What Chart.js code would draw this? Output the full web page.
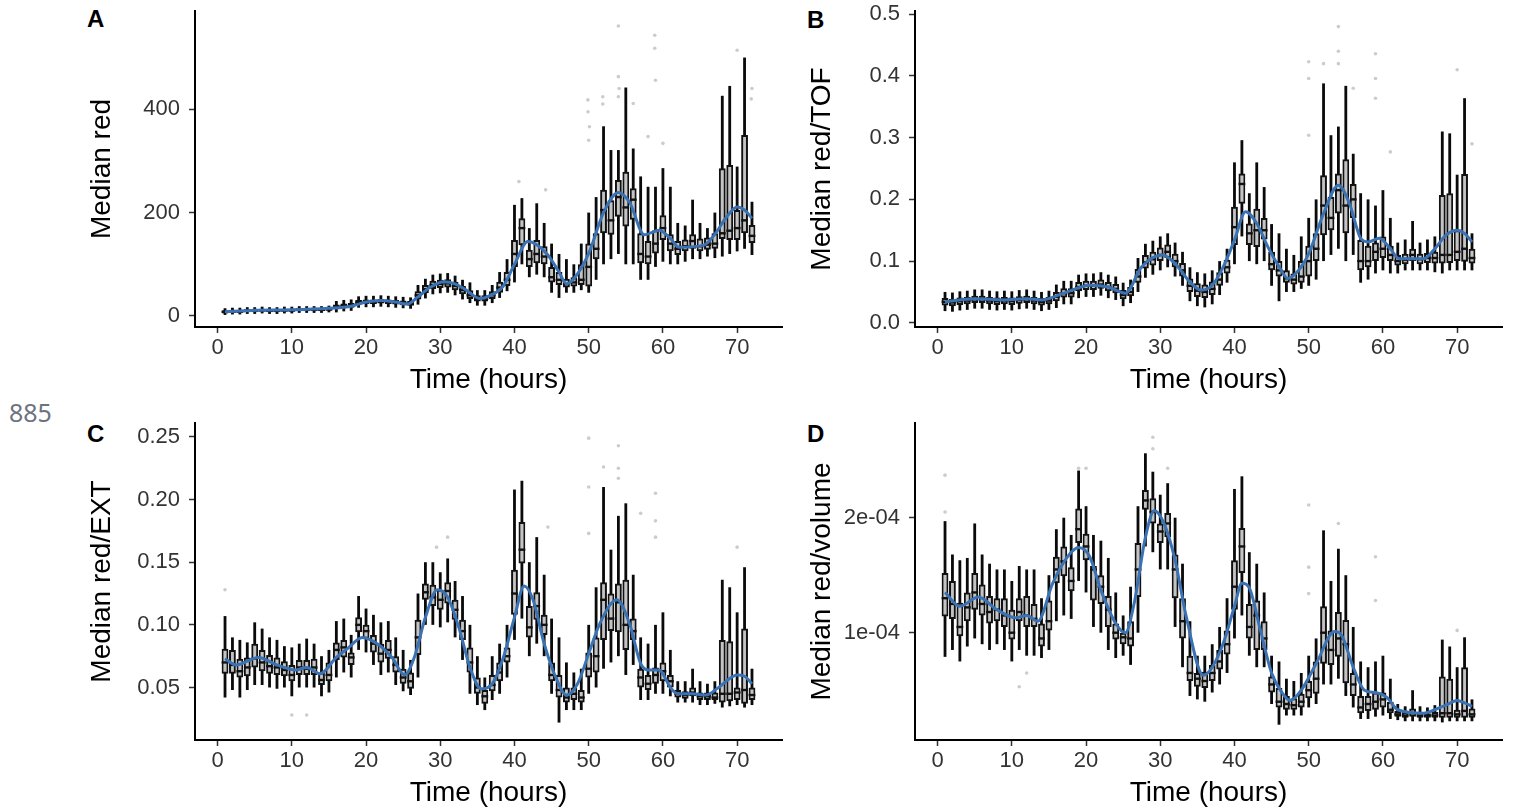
<!DOCTYPE html>
<html><head><meta charset="utf-8">
<script src="https://cdn.jsdelivr.net/npm/chart.js@4.4.1/dist/chart.umd.min.js"></script>
<style>
html,body{margin:0;padding:0;background:#fff;width:1513px;height:810px;overflow:hidden;}
.p{position:absolute;}
.lt{position:absolute;font:bold 24px "Liberation Sans",Arial,sans-serif;line-height:24px;color:#000;}
#pg{position:absolute;left:9px;top:400px;font:25px "Noto Sans",sans-serif;line-height:25px;color:#6b7280;}
</style></head><body>
<div id="pg">885</div>
<div class="lt" style="left:87px;top:7px">A</div>
<div class="lt" style="left:807px;top:8px">B</div>
<div class="lt" style="left:87px;top:422px">C</div>
<div class="lt" style="left:807px;top:422px">D</div>
<div class="p" style="left:80px;top:0px"><canvas id="cA" width="710" height="397"></canvas></div>
<div class="p" style="left:800px;top:0px"><canvas id="cB" width="713" height="397"></canvas></div>
<div class="p" style="left:80px;top:412px"><canvas id="cC" width="710" height="398"></canvas></div>
<div class="p" style="left:800px;top:412px"><canvas id="cD" width="713" height="398"></canvas></div>
<script>
// ---- categories ----
const HOURS = [1,2,3,4,5,6,7,8,9,10,11,12,13,14,15,16,17,18,19,20,21,22,23,24,25,26,27,28,29,30,31,32,33,34,35,36,37,38,39,40,41,42,43,44,45,46,47,48,49,50,51,52,53,54,55,56,57,58,59,60,61,62,63,64,65,66,67,68,69,70,71,72];
const X_TICKS = [0,10,20,30,40,50,60,70];
const X_TITLE = 'Time (hours)';

// ---- Panel A: Median red ----
const A_med = [8,9,9,10,10,11,10,10,11,11,12,12,12,12,13, 17,19,20,26,27,27,28,27,26,25,24, 40,52,60,62,63,58,50, 40,33,33,40,55,70, 120,170,110,120,115,75,70,62,65,70,95,130,205,185,230,210,225,120,115,140,170,140,130,135,145,135,138,140,160,165,170,185,155];
const A_q1 = [5,6,6,7,7,8,7,7,8,8,9,9,9,9,10, 13,15,16,22,23,23,24,23,22,21,20, 32,44,52,54,55,50,42, 33,28,28,33,45,58, 95,137,95,102,100,65,60,55,57,60,57,110,160,157,192,173,186,102,100,121,147,125,118,125,130,125,128,130,149,147,147,160,141];
const A_q3 = [11,12,12,13,13,14,13,13,14,14,15,15,15,15,16, 22,24,25,31,32,32,33,32,31,30,29, 48,60,68,70,71,66,58, 50,40,40,48,66,85, 147,189,128,147,135,95,85,72,75,100,140,160,244,224,263,279,247,160,145,166,195,158,145,148,158,150,152,160,286,292,205,350,176];
const A_lo = [2,3,3,4,4,5,4,4,5,5,6,6,6,6,7, 7,9,10,16,17,17,18,17,16,15,14, 22,34,42,44,45,40,32, 25,20,20,25,35,48, 65,100,75,80,75,45,35,45,45,50,45,70,100,110,120,100,100,70,70,95,105,100,100,105,110,110,115,112,115,120,125,130,118];
const A_hi = [15,16,16,17,17,18,17,17,18,18,19,19,19,19,20, 29,31,32,38,39,39,40,39,38,37,36, 60,72,80,82,83,78,70, 65,50,50,60,85,110, 215,228,170,218,180,140,120,110,100,140,200,230,367,321,321,442,324,270,250,250,286,250,180,175,225,180,170,200,426,445,289,500,221];
const A_outX = [40.6,44.2,49.9,49.9,50.1,50,51.9,51.9,54,54,54,54.1,56,58,58.9,58.9,59,60,70,72,71.9];
const A_outY = [260,244,418,395,366,340,424,410,561,463,424,440,411,347,543,518,456,334,514,440,420];
const A_smX = [1,5,10,15,18,20,22,24,25.5,27,28.5,30.5,32,33.5,35.3,36.5,38.5,40,41.8,43,44.5,46,47,48,50,52,54,55.5,57.5,59.5,61,62.2,65.5,67,68.5,70,71,72];
const A_smY = [8,11,12,15,19,27,30,27,23,37,54,66,62,50,34,38,58,100,144,138,118,85,62,72,121,200,239,220,157,166,150,133,137,158,190,211,205,189];
const A_yTicks = [0,200,400];
const A_yLabels = ['0','200','400'];

// ---- Panel B: Median red/TOF ----
const B_med = [0.034,0.033,0.035,0.036,0.038,0.038,0.036,0.035,0.036,0.035,0.037,0.038,0.036,0.034,0.036, 0.042,0.048,0.048,0.058,0.060,0.060,0.062,0.058,0.055,0.045,0.050, 0.075,0.098,0.103,0.110,0.115,0.100,0.085,0.060,0.052,0.050,0.055,0.070,0.090, 0.155,0.225,0.145,0.150,0.150,0.095,0.085,0.072,0.070,0.075,0.100,0.120,0.190,0.170,0.215,0.190,0.200,0.100,0.100,0.115,0.120,0.110,0.100,0.102,0.110,0.103,0.105,0.105,0.110,0.110,0.115,0.120,0.105];
const B_q1 = [0.028,0.027,0.029,0.030,0.032,0.032,0.030,0.029,0.030,0.029,0.031,0.032,0.030,0.028,0.030, 0.035,0.041,0.041,0.051,0.053,0.053,0.055,0.051,0.048,0.038,0.043, 0.065,0.088,0.093,0.100,0.105,0.090,0.075,0.050,0.042,0.040,0.045,0.060,0.080, 0.126,0.193,0.126,0.123,0.135,0.085,0.075,0.065,0.062,0.065,0.075,0.100,0.142,0.150,0.177,0.145,0.170,0.085,0.090,0.100,0.105,0.100,0.093,0.095,0.100,0.095,0.097,0.096,0.096,0.097,0.100,0.099,0.096];
const B_q3 = [0.040,0.039,0.041,0.042,0.044,0.044,0.042,0.041,0.042,0.041,0.043,0.044,0.042,0.040,0.042, 0.050,0.056,0.056,0.066,0.068,0.068,0.070,0.066,0.063,0.053,0.058, 0.087,0.110,0.115,0.122,0.127,0.112,0.097,0.072,0.064,0.062,0.067,0.082,0.102, 0.188,0.242,0.161,0.185,0.170,0.115,0.100,0.085,0.080,0.100,0.125,0.145,0.239,0.204,0.242,0.265,0.225,0.134,0.125,0.130,0.140,0.125,0.110,0.112,0.120,0.112,0.113,0.115,0.207,0.210,0.150,0.241,0.120];
const B_lo = [0.019,0.018,0.020,0.021,0.023,0.023,0.021,0.020,0.021,0.020,0.022,0.023,0.021,0.019,0.021, 0.024,0.030,0.030,0.040,0.042,0.042,0.044,0.040,0.037,0.027,0.032, 0.050,0.073,0.078,0.085,0.090,0.075,0.060,0.035,0.027,0.025,0.030,0.045,0.065, 0.095,0.140,0.100,0.095,0.100,0.060,0.035,0.050,0.050,0.055,0.060,0.070,0.100,0.110,0.120,0.100,0.110,0.065,0.070,0.080,0.085,0.080,0.080,0.085,0.085,0.085,0.085,0.082,0.080,0.085,0.085,0.085,0.085];
const B_hi = [0.050,0.049,0.051,0.052,0.054,0.054,0.052,0.051,0.052,0.051,0.053,0.054,0.052,0.050,0.052, 0.062,0.068,0.068,0.078,0.080,0.080,0.082,0.078,0.075,0.065,0.070, 0.105,0.128,0.133,0.140,0.145,0.130,0.115,0.090,0.082,0.080,0.085,0.100,0.120, 0.260,0.296,0.210,0.260,0.220,0.160,0.145,0.120,0.110,0.140,0.170,0.200,0.388,0.304,0.318,0.384,0.274,0.210,0.200,0.190,0.215,0.170,0.130,0.135,0.165,0.130,0.135,0.140,0.310,0.307,0.240,0.364,0.145];
const B_outX = [50,50,50,52,54,54,54,59,59,59,56,61,70,72];
const B_outY = [0.423,0.396,0.304,0.420,0.480,0.440,0.420,0.436,0.396,0.364,0.380,0.277,0.410,0.290];
const B_smX = [1,5,9,12,14,17,20.5,23,25.3,27.5,30.3,32,34,35.5,37,38.5,40,41.5,43,44.5,46,47.2,48.5,50,52,54,55.5,57,58,59.5,61,62.2,65.5,67,68.5,70,71,72];
const B_smY = [0.034,0.039,0.037,0.039,0.037,0.048,0.061,0.058,0.048,0.091,0.110,0.096,0.066,0.053,0.061,0.091,0.134,0.180,0.161,0.123,0.091,0.072,0.083,0.112,0.177,0.223,0.193,0.137,0.131,0.137,0.120,0.104,0.104,0.120,0.142,0.150,0.145,0.131];
const B_yTicks = [0,0.1,0.2,0.3,0.4,0.5];
const B_yLabels = ['0.0','0.1','0.2','0.3','0.4','0.5'];

// ---- Panel C: Median red/EXT ----
const C_med = [.070,.068,.063,.066,.073,.070,.067,.066,.064,.060,.066,.065,.066,.056,.060,.080,.082,.074,.100,.095,.085,.077,.080,.068,.058,.055,.090,.126,.122,.120,.127,.112,.095,.070,.050,.043,.052,.062,.075,.125,.160,.098,.115,.100,.060,.048,.042,.045,.042,.065,.075,.120,.105,.118,.100,.095,.058,.053,.060,.063,.055,.045,.044,.046,.043,.043,.042,.045,.045,.046,.048,.044];
const C_q1 = [.061,.061,.058,.059,.066,.063,.061,.060,.059,.055,.060,.060,.060,.052,.055,.072,.074,.068,.094,.089,.078,.070,.073,.062,.053,.049,.076,.120,.115,.112,.117,.104,.088,.062,.045,.037,.047,.055,.070,.108,.149,.090,.104,.092,.055,.042,.038,.040,.038,.058,.062,.088,.095,.094,.080,.088,.050,.048,.053,.055,.050,.042,.041,.043,.040,.040,.040,.038,.039,.040,.037,.040];
const C_q3 = [.081,.080,.073,.074,.085,.080,.076,.074,.071,.068,.072,.072,.073,.062,.070,.086,.088,.078,.106,.100,.092,.085,.088,.075,.065,.062,.104,.133,.132,.128,.134,.120,.104,.082,.058,.048,.060,.070,.082,.144,.182,.115,.126,.108,.070,.060,.050,.050,.048,.078,.090,.134,.125,.133,.136,.105,.065,.060,.066,.070,.060,.048,.047,.050,.046,.046,.046,.088,.087,.050,.097,.050];
const C_lo = [.042,.048,.042,.048,.052,.052,.050,.049,.050,.043,.050,.050,.050,.043,.046,.058,.062,.058,.080,.078,.068,.060,.062,.052,.047,.044,.058,.100,.100,.098,.102,.090,.072,.045,.036,.032,.040,.045,.058,.088,.105,.075,.085,.075,.045,.022,.032,.032,.032,.045,.050,.065,.070,.075,.060,.068,.040,.040,.045,.045,.043,.038,.038,.038,.036,.036,.037,.034,.035,.036,.034,.036];
const C_hi = [.107,.090,.088,.086,.102,.097,.090,.088,.083,.082,.085,.089,.085,.075,.080,.103,.105,.092,.123,.113,.108,.102,.103,.090,.080,.072,.125,.150,.150,.142,.153,.135,.123,.100,.075,.058,.075,.085,.100,.208,.215,.150,.170,.140,.105,.090,.070,.062,.065,.100,.130,.210,.160,.187,.197,.140,.090,.085,.100,.110,.080,.055,.055,.065,.055,.053,.055,.136,.130,.110,.146,.065];
const C_outX = [1,10,12,29.5,31,44.5,50,50,50,52,54,54,54,57,59,59,59,70];
const C_outY = [0.128,0.028,0.028,0.162,0.170,0.178,0.249,0.210,0.173,0.226,0.243,0.225,0.217,0.189,0.205,0.183,0.170,0.162];
const C_smX = [1,2.5,5.5,8,10.5,12,13.8,16,17.5,19.5,21.5,23.5,25.2,26.5,28,29.6,31,32.5,34,35.5,37,38.5,40,41.3,42.5,44,45.5,47,48.5,50,51.5,53.8,55.5,57,58,59.5,61,62,64,65.8,67.5,70,71,72];
const C_smY = [0.073,0.068,0.074,0.068,0.064,0.066,0.061,0.074,0.081,0.090,0.085,0.074,0.060,0.074,0.106,0.128,0.122,0.098,0.066,0.049,0.053,0.074,0.106,0.131,0.120,0.085,0.059,0.044,0.053,0.077,0.101,0.120,0.101,0.069,0.064,0.064,0.050,0.045,0.045,0.044,0.050,0.060,0.059,0.053];
const C_yTicks = [0.05,0.10,0.15,0.20,0.25];
const C_yLabels = ['0.05','0.10','0.15','0.20','0.25'];

// ---- Panel D: Median red/volume (values in units of 1e-4) ----
const D_unit = 1e-4;
const D_med = [1.30,1.25,1.05,1.22,1.35,1.25,1.18,1.20,1.15,1.00,1.18,1.15,1.12,0.95,1.10,1.55,1.62,1.45,1.90,1.75,1.55,1.40,1.20,1.00,0.96,0.95,1.55,2.15,2.05,1.88,1.95,1.55,1.10,0.65,0.60,0.58,0.65,0.75,0.90,1.40,1.75,1.05,1.15,0.95,0.55,0.40,0.38,0.37,0.40,0.50,0.60,1.00,0.85,0.95,0.90,0.55,0.35,0.38,0.40,0.42,0.33,0.29,0.28,0.30,0.28,0.28,0.28,0.30,0.30,0.29,0.32,0.29];
const D_q1 = [1.14,1.12,0.97,1.10,1.20,1.15,1.08,1.10,1.05,0.94,1.10,1.05,1.05,0.88,1.02,1.43,1.49,1.36,1.78,1.63,1.28,1.25,1.05,0.94,0.90,0.88,1.31,2.07,1.95,1.78,1.83,1.30,0.95,0.58,0.53,0.52,0.58,0.68,0.81,1.20,1.52,0.95,0.85,0.85,0.48,0.35,0.33,0.33,0.35,0.43,0.47,0.73,0.72,0.79,0.56,0.45,0.30,0.32,0.33,0.35,0.30,0.27,0.26,0.27,0.26,0.26,0.26,0.26,0.26,0.26,0.26,0.26];
const D_q3 = [1.52,1.45,1.26,1.35,1.52,1.42,1.32,1.30,1.30,1.20,1.30,1.32,1.25,1.08,1.28,1.66,1.75,1.57,2.08,1.86,1.58,1.50,1.32,1.08,1.00,1.10,1.78,2.24,2.17,1.95,2.04,1.68,1.30,0.80,0.65,0.66,0.72,0.85,1.02,1.63,1.91,1.25,1.28,1.10,0.62,0.52,0.45,0.43,0.47,0.58,0.75,1.23,1.02,1.18,1.11,0.65,0.45,0.45,0.48,0.48,0.40,0.32,0.31,0.34,0.31,0.30,0.31,0.62,0.60,0.33,0.70,0.34];
const D_lo = [0.79,0.85,0.75,0.88,0.95,0.90,0.85,0.90,0.85,0.75,0.85,0.80,0.80,0.78,0.85,1.10,1.15,1.12,1.45,1.35,1.05,1.00,0.85,0.78,0.80,0.72,1.00,1.75,1.70,1.55,1.55,1.05,0.70,0.45,0.42,0.40,0.48,0.55,0.65,0.95,1.15,0.80,0.70,0.70,0.38,0.20,0.28,0.28,0.28,0.35,0.38,0.55,0.55,0.60,0.45,0.35,0.25,0.25,0.27,0.28,0.25,0.24,0.23,0.23,0.23,0.23,0.23,0.22,0.23,0.23,0.23,0.23];
const D_hi = [1.97,1.68,1.63,1.65,1.95,1.68,1.60,1.55,1.55,1.45,1.58,1.55,1.55,1.30,1.50,1.90,2.00,1.85,2.41,2.10,1.85,1.80,1.65,1.35,1.15,1.40,2.10,2.56,2.40,2.20,2.30,2.00,1.60,1.10,0.80,0.80,0.90,1.05,1.30,2.25,2.36,1.70,1.60,1.35,0.80,0.75,0.60,0.58,0.65,0.80,0.95,1.89,1.45,1.73,1.50,1.05,0.75,0.70,0.75,0.80,0.60,0.38,0.36,0.50,0.36,0.35,0.37,0.94,0.88,0.70,0.96,0.42];
const D_outX = [1,1,11,12,19,20,29,29,31,50,50,50,54,59,59,70];
const D_outY = [2.37,2.05,0.53,0.65,2.43,2.43,2.70,2.60,2.43,2.11,1.57,1.34,1.95,1.66,1.28,1.02];
const D_smX = [1,3,5.5,8,10.5,12,13.5,15.5,17.5,19,20.5,22,24,25.3,26.5,28,29.2,30.5,32,33.5,35.8,37,38.5,40,41,42,43.5,45,46.5,47.5,49,51,53.5,54.5,56,57.5,59,60.5,62,65.5,67,68.5,70,71,72];
const D_smY = [1.35,1.23,1.31,1.20,1.13,1.15,1.10,1.43,1.66,1.74,1.66,1.37,1.08,1.00,1.26,1.83,2.06,1.95,1.63,1.14,0.63,0.70,0.91,1.23,1.43,1.39,1.02,0.65,0.47,0.41,0.50,0.73,1.01,0.97,0.70,0.50,0.48,0.44,0.33,0.30,0.33,0.37,0.41,0.39,0.36];
const D_yTicks = [1e-4,2e-4];
const D_yLabels = ['1e-04','2e-04'];

// ---- drawing ----
const FONT = '"Liberation Sans", Arial, Helvetica, sans-serif';
Chart.defaults.font.family = FONT;

function panel(id, P) {
  const u = P.unit || 1;
  const whisk = HOURS.map((h, i) => ({x: h, y: [P.lo[i] * u, P.hi[i] * u]}));
  const box = HOURS.map((h, i) => ({x: h, y: [P.q1[i] * u, P.q3[i] * u]}));
  const med = HOURS.map((h, i) => ({x: h, y: P.med[i] * u}));
  const out = P.outX.map((h, i) => ({x: h, y: P.outY[i] * u}));
  const sm = P.smX.map((h, i) => ({x: h, y: P.smY[i] * u}));
  new Chart(document.getElementById(id), {
    type: 'bar',
    data: {datasets: [
      {type: 'line', data: out, showLine: false, pointRadius: 1.8, pointBackgroundColor: 'rgba(0,0,0,0.2)', pointBorderWidth: 0, order: 5},
      {type: 'bar', data: whisk, backgroundColor: '#0a0a0a', categoryPercentage: 1, barPercentage: 0.38, grouped: false, order: 4},
      {type: 'bar', data: box, backgroundColor: '#c4c4c4', borderColor: '#111', borderWidth: 2, borderSkipped: false, categoryPercentage: 1, barPercentage: 0.92, grouped: false, order: 3},
      {type: 'line', data: med, showLine: false, pointStyle: 'line', pointRadius: 3.4, pointBorderWidth: 2.4, pointBorderColor: '#111', order: 2},
      {type: 'line', data: sm, borderColor: '#3a72b4', borderWidth: 3, pointRadius: 0, cubicInterpolationMode: 'monotone', fill: false, order: 1}
    ]},
    options: {
      responsive: false, animation: false, devicePixelRatio: 1, events: [],
      layout: {padding: {top: 11, right: P.padRight, bottom: 0, left: 0}},
      plugins: {legend: {display: false}, tooltip: {enabled: false}},
      scales: {
        x: {
          type: 'linear', min: -3.045, max: 76.045, offset: false,
          afterBuildTicks: s => { s.ticks = X_TICKS.map(v => ({value: v})); },
          afterFit: s => { s.height = 70; s.paddingLeft = 0; s.paddingRight = 0; },
          ticks: {font: {size: 22}, color: '#333', padding: 2, maxRotation: 0, autoSkip: false, callback: v => String(v)},
          grid: {display: true, offset: false, drawOnChartArea: false, drawTicks: true, tickLength: 6, tickColor: '#333', tickWidth: 1.5},
          border: {display: true, color: '#000', width: 2},
          title: {display: true, text: X_TITLE, font: {size: 28}, color: '#000', padding: {top: 0, bottom: 0}}
        },
        y: {
          type: 'linear', min: P.ymin, max: P.ymax,
          afterBuildTicks: s => { s.ticks = P.yTicks.map(v => ({value: v})); },
          afterFit: s => { s.width = 115; s.paddingTop = 0; s.paddingBottom = 0; },
          ticks: {font: {size: 22}, color: '#333', padding: 9, autoSkip: false, callback: (v, i) => P.yLabels[i]},
          grid: {display: true, offset: false, drawOnChartArea: false, drawTicks: true, tickLength: 6, tickColor: '#333', tickWidth: 1.5},
          border: {display: true, color: '#000', width: 2},
          title: {display: true, text: P.yTitle, font: {size: 28}, color: '#000', padding: {top: 5, bottom: 0}}
        }
      }
    }
  });
}

panel('cA', {med: A_med, q1: A_q1, q3: A_q3, lo: A_lo, hi: A_hi, outX: A_outX, outY: A_outY, smX: A_smX, smY: A_smY,
  yTicks: A_yTicks, yLabels: A_yLabels, ymin: -21.3, ymax: 590, yTitle: 'Median red', padRight: 8});
panel('cB', {med: B_med, q1: B_q1, q3: B_q3, lo: B_lo, hi: B_hi, outX: B_outX, outY: B_outY, smX: B_smX, smY: B_smY,
  yTicks: B_yTicks, yLabels: B_yLabels, ymin: -0.0068, ymax: 0.5053, yTitle: 'Median red/TOF', padRight: 11});
panel('cC', {med: C_med, q1: C_q1, q3: C_q3, lo: C_lo, hi: C_hi, outX: C_outX, outY: C_outY, smX: C_smX, smY: C_smY,
  yTicks: C_yTicks, yLabels: C_yLabels, ymin: 0.0081, ymax: 0.2611, yTitle: 'Median red/EXT', padRight: 8});
panel('cD', {unit: D_unit, med: D_med, q1: D_q1, q3: D_q3, lo: D_lo, hi: D_hi, outX: D_outX, outY: D_outY, smX: D_smX, smY: D_smY,
  yTicks: D_yTicks, yLabels: D_yLabels, ymin: 0.067e-4, ymax: 2.8235e-4, yTitle: 'Median red/volume', padRight: 11});
</script>
</body></html>
